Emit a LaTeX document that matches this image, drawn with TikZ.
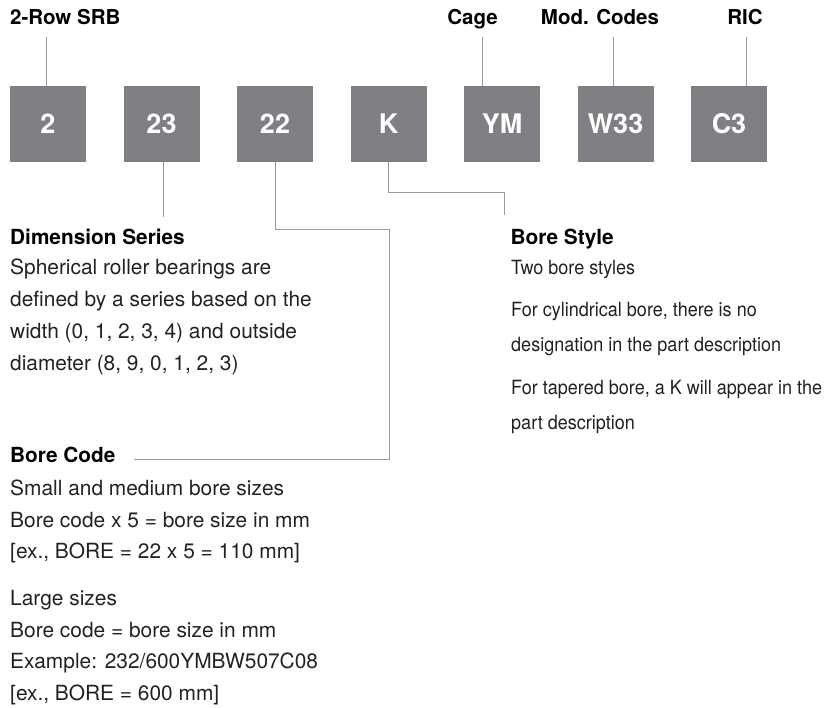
\documentclass[tikz,border=0pt]{standalone}
\usepackage{fontspec}
\setmainfont{TeX Gyre Heros}
\newfontfamily\condheros[FakeStretch=0.92]{TeX Gyre Heros}
\definecolor{boxgray}{HTML}{808084}
\definecolor{linegray}{HTML}{9A9A9A}
\definecolor{bodytxt}{HTML}{222222}
\begin{document}
\begin{tikzpicture}[x=1pt,y=-1pt,
  codebox/.style={fill=boxgray,minimum width=76pt,minimum height=76pt,inner sep=0pt,
    text=white,font=\fontsize{27}{30}\selectfont\bfseries},
  toplabel/.style={anchor=base,inner sep=0pt,font=\fontsize{20.5}{24}\selectfont\bfseries},
  head/.style={anchor=base west,inner sep=0pt,font=\fontsize{20.8}{24}\selectfont\bfseries},
  body/.style={anchor=base west,inner sep=0pt,text=bodytxt,font=\fontsize{20.9}{24}\selectfont},
  bodyr/.style={body,font=\fontsize{19.6}{22}\condheros},
  conn/.style={draw=linegray,line width=1pt}]
\useasboundingbox (0,0) rectangle (825,708);

% code boxes
\node[codebox] (b1) at (48,124) {2};
\node[codebox] (b2) at (161.5,124) {23};
\node[codebox] (b3) at (275,124) {22};
\node[codebox] (b4) at (388.5,124) {K};
\node[codebox] (b5) at (502,124) {YM};
\node[codebox] (b6) at (615.5,124) {W33};
\node[codebox] (b7) at (729,124) {C3};

% top labels
\node[toplabel,anchor=base west] (t1) at (10,25) {2-Row SRB};
\node[toplabel] (t5) at (472.5,25) {Cage};
\node[toplabel] (t6) at (600,25) {Mod. Codes};
\node[toplabel] (t7) at (745,25) {RIC};

\coordinate (c1) at (46,37);
\coordinate (c5) at (482.3,37);
\coordinate (c6) at (613.3,37);
\coordinate (c7) at (746.7,37);
\draw[conn] (c1) -- (c1 |- b1.north);
\draw[conn] (c5) -- (c5 |- b5.north);
\draw[conn] (c6) -- (c6 |- b6.north);
\draw[conn] (c7) -- (c7 |- b7.north);

% bottom connectors
\coordinate (d2) at (163,217);
\draw[conn] (d2 |- b2.south) -- (d2);

\coordinate (d3a) at (389,230);
\coordinate (d3b) at (389,460);
\coordinate (d3c) at (134,460);
\draw[conn] (b3.south) |- (d3a) -- (d3b) -- (d3c);

\coordinate (d4a) at (504.3,193);
\coordinate (d4b) at (504.3,215);
\draw[conn] (b4.south) |- (d4a) -- (d4b);

% Dimension Series
\node[head] (ds) at (10,245) {Dimension Series};
\node[body] (ds1) at (10,275) {Spherical roller bearings are};
\node[body] (ds2) at (10,307) {defined by a series based on the};
\node[body] (ds3) at (10,339) {width (0, 1, 2, 3, 4) and outside};
\node[body] (ds4) at (10,371) {diameter (8, 9, 0, 1, 2, 3)};

% Bore Style
\node[head] (bs) at (510.5,245) {Bore Style};
\node[bodyr] (bs1) at (511,275) {Two bore styles};
\node[bodyr] (bs2) at (511,317) {For cylindrical bore, there is no};
\node[bodyr] (bs3) at (511,352) {designation in the part description};
\node[bodyr] (bs4) at (511,395) {For tapered bore, a K will appear in the};
\node[bodyr] (bs5) at (511,430) {part description};

% Bore Code
\node[head] (bc) at (10,463) {Bore Code};
\node[body] (bc1) at (10,495) {Small and medium bore sizes};
\node[body] (bc2) at (10,527) {Bore code x 5 = bore size in mm};
\node[body] (bc3) at (10,558.5) {[ex., BORE = 22 x 5 = 110 mm]};
\node[body] (bc4) at (10,605) {Large sizes};
\node[body] (bc5) at (10,637) {Bore code = bore size in mm};
\node[body] (bc6) at (10,668.5) {Example: 232/600YMBW507C08};
\node[body] (bc7) at (10,700) {[ex., BORE = 600 mm]};
\end{tikzpicture}
\end{document}
